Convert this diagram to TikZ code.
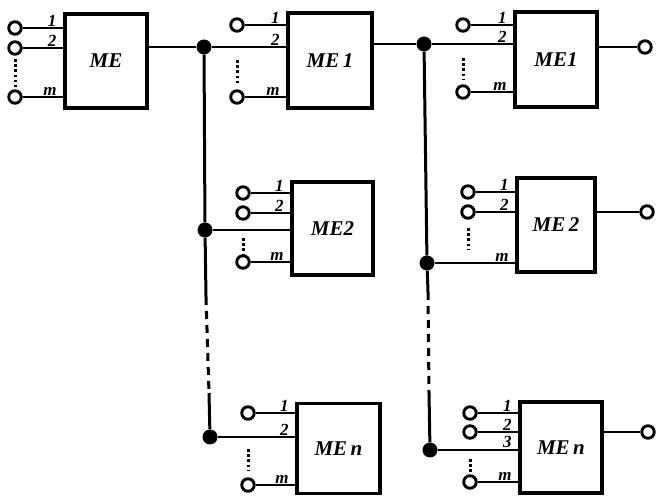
\documentclass[tikz,border=0pt]{standalone}
\usepackage{fontspec}
\setmainfont{Liberation Serif}
\begin{document}
\begin{tikzpicture}[x=1pt,y=-1pt,
  blk/.style={draw, line width=3.2pt, inner sep=0pt, font=\fontsize{21}{23}\selectfont\bfseries\itshape},
  term/.style={circle, draw, line width=2.9pt, minimum size=12.5pt, inner sep=0pt, fill=white},
  jn/.style={circle, fill, minimum size=15pt, inner sep=0pt},
  wire/.style={line width=2.8pt},
  vline/.style={line width=3pt},
  dashv/.style={line width=3pt, dash pattern=on 8pt off 6pt},
  dotv/.style={line width=3pt, dash pattern=on 2.6pt off 2.6pt},
  lab/.style={anchor=south east, inner sep=0.5pt, xshift=-5pt, font=\fontsize{17}{18}\selectfont\bfseries\itshape}
]
\useasboundingbox (0,0) rectangle (657,497);

% boxes
\node[blk, minimum width=82pt, minimum height=94pt] (A)  at (106,61)    {ME};
\node[blk, minimum width=84pt, minimum height=95pt] (B1) at (330,60.5)  {ME\,1};
\node[blk, minimum width=82pt, minimum height=95pt] (C1) at (556,59.5)  {ME1};
\node[blk, minimum width=81pt, minimum height=93pt] (B2) at (332.5,228.5) {ME2};
\node[blk, minimum width=78pt, minimum height=94pt] (C2) at (556,225)   {ME\,2};
\node[blk, minimum width=83pt, minimum height=90pt] (Bn) at (338.5,448.5) {ME\,\textit{n}};
\node[blk, minimum width=82pt, minimum height=91pt] (Cn) at (561,447.5) {ME\,\textit{n}};

% junctions
\node[jn] (J1) at (204,47) {};
\node[jn] (J2) at (424,44) {};
\node[jn] (J3) at (205,230) {};
\node[jn] (J4) at (427,263) {};
\node[jn] (J5) at (210,437) {};
\node[jn] (J6) at (430,450) {};
\coordinate (L1) at (206,297);
\coordinate (L2) at (209,393);
\coordinate (R1) at (428,292);
\coordinate (R2) at (429,393);

% vertical buses
\draw[vline] (J1) -- (J3) -- (L1);
\draw[dashv] (L1) -- (L2);
\draw[vline] (L2) -- (J5);
\draw[vline] (J2) -- (J4) -- (R1);
\draw[dashv] (R1) -- (R2);
\draw[vline] (R2) -- (J6);

% ME
\node[term] (a1) at (15,28) {};
\node[term] (a2) at (15,48) {};
\node[term] (am) at (15,97) {};
\draw[wire] (a1) -- (a1 -| A.west) node[lab] {1};
\draw[wire] (a2) -- (a2 -| A.west) node[lab] {2};
\draw[wire] (am) -- (am -| A.west) node[lab] {m};
\draw[dotv] (15,59) -- (15,87);
\draw[wire] (A.east |- J1) -- (J1);

% ME 1 (middle)
\node[term] (b11) at (237,25) {};
\node[term] (b1m) at (237,97) {};
\draw[wire] (b11) -- (b11 -| B1.west) node[lab] {1};
\draw[wire] (J1) -- (J1 -| B1.west) node[lab] {2};
\draw[wire] (b1m) -- (b1m -| B1.west) node[lab] {m};
\draw[dotv] (237,60) -- (237,84);
\draw[wire] (B1.east |- J2) -- (J2);

% ME1 (right)
\node[term] (c11) at (463,25) {};
\node[term] (c1m) at (463,92) {};
\draw[wire] (c11) -- (c11 -| C1.west) node[lab] {1};
\draw[wire] (J2) -- (J2 -| C1.west) node[lab] {2};
\draw[wire] (c1m) -- (c1m -| C1.west) node[lab] {m};
\draw[dotv] (463,58) -- (463,80);
\node[term] (c1o) at (645,47) {};
\draw[wire] (C1.east |- c1o) -- (c1o);

% ME2 (middle)
\node[term] (b21) at (243,193) {};
\node[term] (b22) at (243,213) {};
\node[term] (b2m) at (243,262) {};
\draw[wire] (b21) -- (b21 -| B2.west) node[lab] {1};
\draw[wire] (b22) -- (b22 -| B2.west) node[lab] {2};
\draw[wire] (J3) -- (J3 -| B2.west);
\draw[wire] (b2m) -- (b2m -| B2.west) node[lab] {m};
\draw[dotv] (243,238) -- (243,255);

% ME 2 (right)
\node[term] (c21) at (468,192) {};
\node[term] (c22) at (468,212) {};
\draw[wire] (c21) -- (c21 -| C2.west) node[lab] {1};
\draw[wire] (c22) -- (c22 -| C2.west) node[lab] {2};
\draw[wire] (J4) -- (J4 -| C2.west) node[lab] {m};
\draw[dotv] (468,228) -- (468,250);
\node[term] (c2o) at (647,212) {};
\draw[wire] (C2.east |- c2o) -- (c2o);

% ME n (middle)
\node[term] (bn1) at (248,413) {};
\node[term] (bnm) at (248,485) {};
\draw[wire] (bn1) -- (bn1 -| Bn.west) node[lab] {1};
\draw[wire] (J5) -- (J5 -| Bn.west) node[lab] {2};
\draw[wire] (bnm) -- (bnm -| Bn.west) node[lab] {m};
\draw[dotv] (248,449) -- (248,470);

% ME n (right)
\node[term] (cn1) at (470,413) {};
\node[term] (cn2) at (470,432) {};
\node[term] (cnm) at (470,482) {};
\draw[wire] (cn1) -- (cn1 -| Cn.west) node[lab] {1};
\draw[wire] (cn2) -- (cn2 -| Cn.west) node[lab] {2};
\draw[wire] (J6) -- (J6 -| Cn.west) node[lab] {3};
\draw[wire] (cnm) -- (cnm -| Cn.west) node[lab] {m};
\draw[dotv] (470,459) -- (470,474);
\node[term] (cno) at (648,432) {};
\draw[wire] (Cn.east |- cno) -- (cno);
\end{tikzpicture}
\end{document}
